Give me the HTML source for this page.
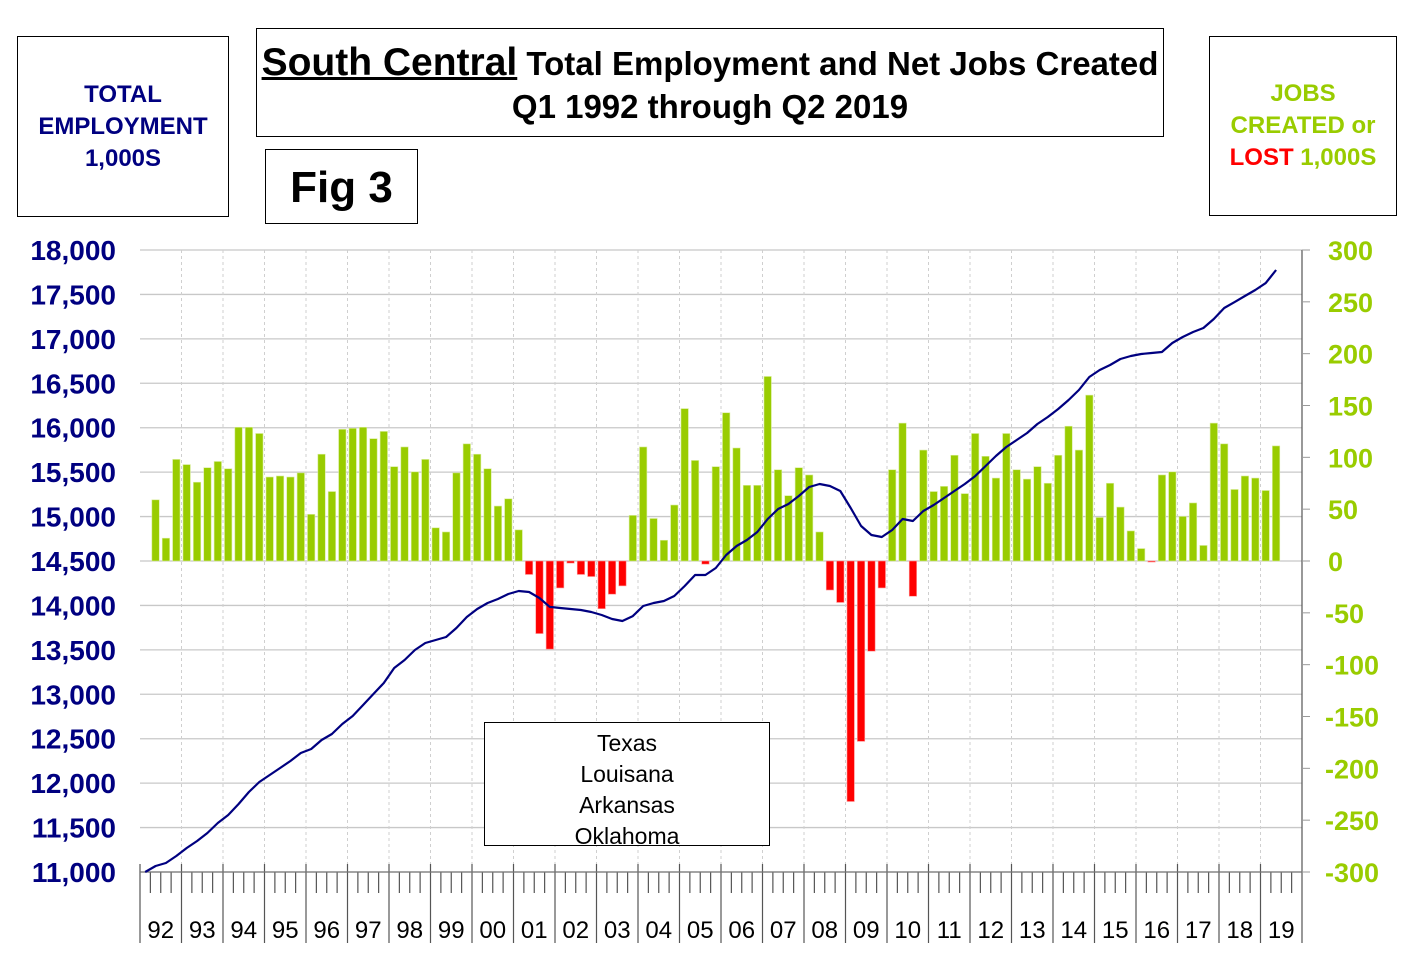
<!DOCTYPE html>
<html><head><meta charset="utf-8"><style>
body{margin:0;background:#fff;width:1420px;height:973px;overflow:hidden;font-family:"Liberation Sans",Arial,sans-serif}
.box{position:absolute;border:1.5px solid #000;background:#fff;box-sizing:border-box;text-align:center}
</style></head><body>
<div class="box" style="left:17px;top:36px;width:212px;height:181px;color:#000080;font-weight:bold;font-size:24px;line-height:32px;padding-top:42px">TOTAL<br>EMPLOYMENT<br>1,000S</div>
<div class="box" style="left:256px;top:28px;width:908px;height:109px;font-weight:bold;font-size:33px;line-height:43px;padding-top:12px;color:#000;white-space:nowrap"><span style="font-size:39px;text-decoration:underline">South Central</span> Total Employment and Net Jobs Created<br>Q1 1992 through Q2 2019</div>
<div class="box" style="left:265px;top:149px;width:153px;height:75px;font-weight:bold;font-size:44px;line-height:75px">Fig 3</div>
<div class="box" style="left:1209px;top:36px;width:188px;height:180px;color:#99cc00;font-weight:bold;font-size:24px;line-height:32px;padding-top:41px">JOBS<br>CREATED or<br><span style="color:#ff0000">LOST</span> 1,000S</div>
<svg id="chart" width="1420" height="973" style="position:absolute;left:0;top:0" xmlns="http://www.w3.org/2000/svg"></svg>
<div class="box" style="left:484px;top:722px;width:286px;height:124px;font-size:23px;line-height:31px;padding-top:5px;overflow:hidden;color:#000">Texas<br>Louisana<br>Arkansas<br>Oklahoma</div>
<script>
const leftTicks=[11000,11500,12000,12500,13000,13500,14000,14500,15000,15500,16000,16500,17000,17500,18000];
const rightTicks=[-300,-250,-200,-150,-100,-50,0,50,100,150,200,250,300];
const yearLabels=["92","93","94","95","96","97","98","99","00","01","02","03","04","05","06","07","08","09","10","11","12","13","14","15","16","17","18","19"];
const jobs=[null,59,22,98,93,76,90,96,89,129,129,123,81,82,81,85,45,103,67,127,128,129,118,125,91,110,86,98,32,28,85,113,103,89,53,60,30,-13,-70,-85,-26,-2,-13,-15,-46,-32,-24,44,110,41,20,54,147,97,-3,91,143,109,73,73,178,88,63,90,83,28,-28,-40,-232,-174,-87,-26,88,133,-34,107,67,72,102,65,123,101,80,123,88,79,91,75,102,130,107,160,42,75,52,29,12,-1,83,86,43,56,15,133,113,69,82,80,68,111];
const employment=[11000,11068,11101,11180,11270,11349,11439,11551,11641,11765,11900,12013,12092,12170,12249,12339,12384,12486,12553,12666,12756,12879,13003,13127,13296,13386,13498,13577,13611,13645,13746,13870,13960,14027,14072,14129,14162,14151,14084,13983,13971,13960,13949,13926,13892,13847,13825,13880,13994,14027,14050,14106,14219,14342,14342,14421,14568,14669,14736,14826,14973,15085,15141,15231,15333,15366,15344,15288,15096,14894,14793,14770,14849,14973,14950,15063,15130,15209,15288,15366,15456,15569,15682,15783,15862,15940,16042,16121,16211,16312,16424,16571,16650,16706,16773,16807,16830,16841,16852,16953,17021,17077,17122,17223,17347,17414,17482,17550,17628,17775];
const X0=140,X1=1302,YT=250,YB=872,NQ=112;
const qw=(X1-X0)/NQ;
const xq=i=>X0+(i+0.5)*qw;
const yL=v=>YB-(v-11000)/7000*(YB-YT);
const yR=v=>YB-(v+300)/600*(YB-YT);
const svg=document.getElementById('chart');
const NS='http://www.w3.org/2000/svg';
function mk(t,a,p){const e=document.createElementNS(NS,t);for(const k in a)e.setAttribute(k,a[k]);(p||svg).appendChild(e);return e;}
leftTicks.forEach(v=>{const y=yL(v);
 const g=mk('line',{x1:X0,x2:X1,y1:y,y2:y,stroke:'#c8c8c8','stroke-width':1.3});
 
 
 const t=mk('text',{x:116,y:y+10,'text-anchor':'end','font-size':28,'font-weight':'bold',fill:'#000080','font-family':'Liberation Sans, Arial, sans-serif'});
 t.textContent=v.toLocaleString('en-US');
 
 
});
rightTicks.forEach(v=>{const y=yR(v);
 const t=mk('text',{x:v<0?1325:1328,y:y+10,'font-size':27,'font-weight':'bold',fill:'#99cc00','font-family':'Liberation Sans, Arial, sans-serif'});
 t.textContent=v;
 
 
});
yearLabels.forEach((lab,i)=>{const x=X0+i*4*qw;
 if(i>0){const g=mk('line',{x1:x,x2:x,y1:YT,y2:YB,stroke:'#cfcfcf','stroke-width':1,'stroke-dasharray':'3,3'});
  
  }
 const s=mk('line',{x1:x,x2:x,y1:YB-8,y2:943,stroke:'#555','stroke-width':1.2});
 
 
 for(let q=1;q<4;q++){const xx=x+q*qw;mk('line',{x1:xx,x2:xx,y1:YB,y2:893,stroke:'#555','stroke-width':1.2});}
 const t=mk('text',{x:x+2*qw,y:938,'text-anchor':'middle','font-size':24,fill:'#000','font-family':'Liberation Sans, Arial, sans-serif'});
 t.textContent=lab;
 
 
});
mk('line',{x1:X1,x2:X1,y1:YT,y2:943,stroke:'#555','stroke-width':1.2});
rightTicks.forEach(v=>{const y=yR(v);mk('line',{x1:X1,x2:X1+8,y1:y,y2:y,stroke:'#999'});});
const y0=yR(0);
jobs.forEach((v,i)=>{if(v===null)return;const x=xq(i);const y=yR(v);
 const b=mk('rect',{x:x-3.7,y:Math.min(y,y0),width:7.4,height:Math.max(1,Math.abs(y-y0)),fill:v>=0?'#99cc00':'#ff0000',stroke:v>=0?'#d8ec99':'#ff9999','stroke-width':0.6});
 
 
});
const ax=mk('line',{x1:X0,x2:X1,y1:YB,y2:YB,stroke:'#777','stroke-width':1.3});


const pts=employment.map((v,i)=>xq(i).toFixed(1)+','+yL(v).toFixed(1)).join(' ');
const ln=mk('polyline',{points:pts,fill:'none',stroke:'#000080','stroke-width':2.2,'stroke-linejoin':'round'});


</script>
</body></html>
